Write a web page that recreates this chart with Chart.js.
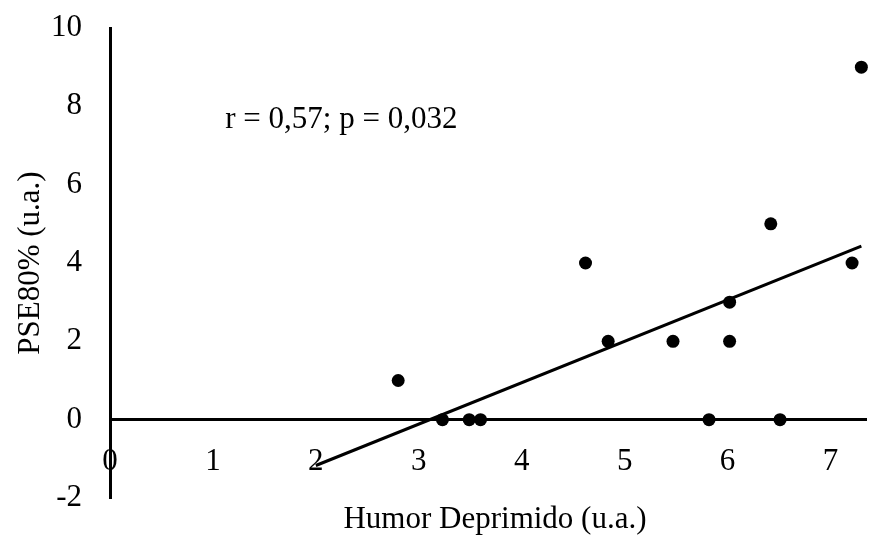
<!DOCTYPE html>
<html>
<head>
<meta charset="utf-8">
<script src="https://cdn.jsdelivr.net/npm/chart.js@4"></script>
<style>
  html, body { margin: 0; padding: 0; background: #fff; overflow: hidden; }
  #wrap { width: 873px; height: 539px; }
</style>
</head>
<body>
<div id="wrap"><canvas id="chart"></canvas></div>
<script>
// Humor Deprimido (x) vs PSE80% (y)
const humorValues = [2.8, 3.23, 3.49, 3.6, 4.62, 4.84, 5.47, 5.82, 6.02, 6.02, 6.42, 6.51, 7.21, 7.3];
const pseValues   = [1,   0,    0,    0,   4,    2,    2,    0,    3,    2,    5,    0,    4,    9];

// fitted trend line, end points
const trendX = [2, 7.3];
const trendY = [-1.17, 4.43];

const xTicks = [0, 1, 2, 3, 4, 5, 6, 7];
const yTicks = [-2, 0, 2, 4, 6, 8, 10];

const xTitle = 'Humor Deprimido (u.a.)';
const yTitle = 'PSE80% (u.a.)';
const statsNote = 'r = 0,57; p = 0,032';
const notePos = { x: 1.12, y: 7.65 };

const fontFamily = '"Liberation Serif", "Times New Roman", serif';
const fontSize = 31;

// labels may overflow the plot edges, like in the original
const noOverflowPadding = (scale) => {
    scale.paddingTop = 0;
    scale.paddingBottom = 0;
    scale.paddingLeft = 0;
    scale.paddingRight = 0;
};

const extraText = {
    id: 'extraText',
    afterDraw(chart) {
        const { ctx, scales } = chart;
        ctx.save();
        ctx.fillStyle = '#000';
        ctx.font = `${fontSize}px ${fontFamily}`;
        ctx.textBaseline = 'middle';

        ctx.textAlign = 'left';
        ctx.fillText(statsNote, scales.x.getPixelForValue(notePos.x), scales.y.getPixelForValue(notePos.y));

        ctx.textAlign = 'center';
        ctx.fillText(xTitle, 495, 520);
        ctx.restore();
    }
};

new Chart(document.getElementById('chart').getContext('2d'), {
    type: 'scatter',
    data: {
        datasets: [
            {
                label: 'dados',
                data: humorValues.map((x, i) => ({ x: x, y: pseValues[i] })),
                pointRadius: 6.5,
                pointHoverRadius: 6.5,
                backgroundColor: '#000',
                borderWidth: 0,
                clip: false,
                order: 1,
            },
            {
                label: 'tendência',
                type: 'line',
                data: trendX.map((x, i) => ({ x: x, y: trendY[i] })),
                borderColor: '#000',
                borderWidth: 3,
                pointRadius: 0,
                fill: false,
                clip: false,
                order: 2,
            }
        ]
    },
    options: {
        responsive: true,
        maintainAspectRatio: false,
        animation: false,
        layout: { padding: { top: 28, right: 0, bottom: 41, left: 0 } },
        plugins: {
            legend: { display: false },
            tooltip: { enabled: false },
        },
        scales: {
            x: {
                type: 'linear',
                position: { y: 0 },
                min: 0,
                max: 7.35,
                afterBuildTicks: (scale) => { scale.ticks = xTicks.map(v => ({ value: v })); },
                afterFit: noOverflowPadding,
                grid: { display: false, drawTicks: false },
                border: { display: true, color: '#000', width: 3 },
                ticks: {
                    color: '#000',
                    padding: 24,
                    maxRotation: 0,
                    font: { family: fontFamily, size: fontSize },
                },
            },
            y: {
                type: 'linear',
                position: 'left',
                min: -2,
                max: 10,
                afterBuildTicks: (scale) => { scale.ticks = yTicks.map(v => ({ value: v })); },
                afterFit: (scale) => { noOverflowPadding(scale); scale.width = 110; },
                grid: { display: false, drawTicks: false },
                border: { display: true, color: '#000', width: 3 },
                ticks: {
                    color: '#000',
                    padding: 28,
                    font: { family: fontFamily, size: fontSize },
                },
                title: {
                    display: true,
                    text: yTitle,
                    color: '#000',
                    padding: { top: 12, bottom: 0 },
                    font: { family: fontFamily, size: fontSize },
                },
            },
        },
    },
    plugins: [extraText],
});
</script>
</body>
</html>
